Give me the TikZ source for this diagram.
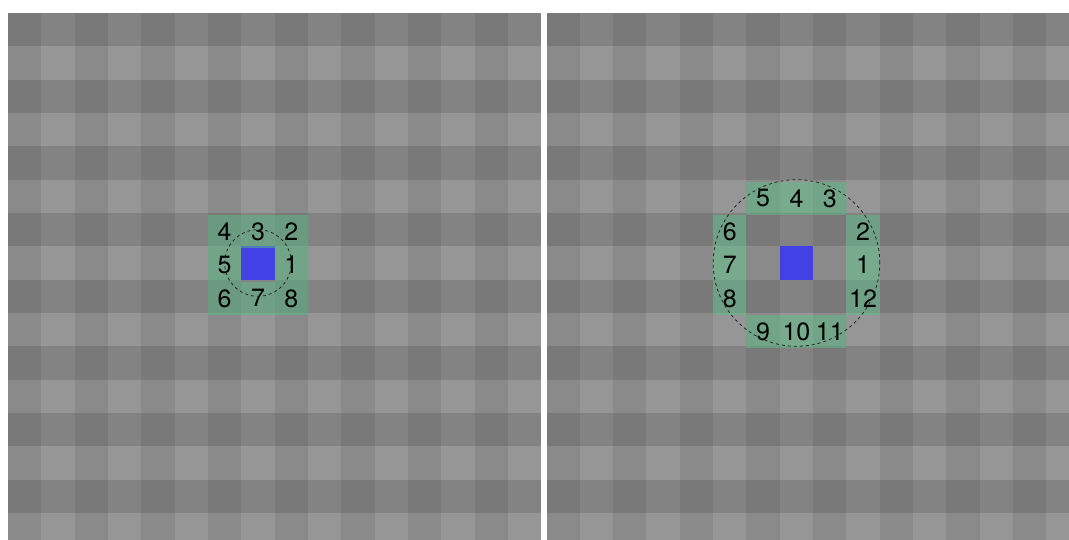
\documentclass[tikz,border=0pt]{standalone}
\usepackage{fontspec}
\setmainfont{TeX Gyre Heros}
\usepackage{tikz}
\definecolor{tile0}{HTML}{797979}
\definecolor{tile1}{HTML}{838383}
\definecolor{tile2}{HTML}{8A8A8A}
\definecolor{tile3}{HTML}{969696}
\definecolor{ringgreen}{HTML}{5CBE88}
\definecolor{pixblue}{HTML}{4141E6}
\def\cell{33.33}

\begin{document}
\begin{tikzpicture}[
  x=1pt, y=-1pt,
  every node/.style={font=\fontsize{25}{28}\selectfont, align=center},
  nbr/.style={fill=ringgreen, fill opacity=0.5, text opacity=1, inner sep=0pt,
    minimum size=\cell pt, text depth=0pt, yshift=-2pt},
  pix/.style={fill=pixblue, inner sep=0pt, minimum size=\cell pt},
  ring/.style={draw=black!85, line width=0.8pt, dash pattern=on 3pt off 3pt}
]
\useasboundingbox (0,0) rectangle (1069,540);
\fill[white] (0,0) rectangle (1069,540);
\clip (0,0) rectangle (1069,540);
\coordinate (lorigin) at (8,13);
\coordinate (rorigin) at (546.5,13);
% checkerboard of both panels
\foreach \ox in {8,546.5}{
  \foreach \i in {0,...,15}{
    \foreach \j in {0,...,15}{
      \pgfmathtruncatemacro\k{mod(\i,2)+2*mod(\j,2)}
      \fill[tile\k] ({\ox+\i*\cell},{13+\j*\cell}) rectangle +(\cell,\cell);
    }
  }
}
% left: radius 1
\node[pix] (lpix) at ({8+7.5*\cell},{13+7.5*\cell}) {};
\foreach \n/\c/\r in {1/8/7, 2/8/6, 3/7/6, 4/6/6, 5/6/7, 6/6/8, 7/7/8, 8/8/8}
  \node[nbr] (l\n) at ({8+(\c+0.5)*\cell},{13+(\r+0.5)*\cell}) {\n};
\draw[ring] (lpix.center) circle[radius=\cell pt];
% right: radius 2.5
\node[pix] (rpix) at ({546.5+7.5*\cell},{13+7.5*\cell}) {};
\foreach \n/\c/\r in {1/9/7, 2/9/6, 3/8/5, 4/7/5, 5/6/5, 6/5/6, 7/5/7, 8/5/8,
    9/6/9, 10/7/9, 11/8/9, 12/9/8}
  \node[nbr] (r\n) at ({546.5+(\c+0.5)*\cell},{13+(\r+0.5)*\cell}) {\n};
\draw[ring] (rpix.center) circle[radius=2.5*\cell pt];
\end{tikzpicture}
\end{document}
